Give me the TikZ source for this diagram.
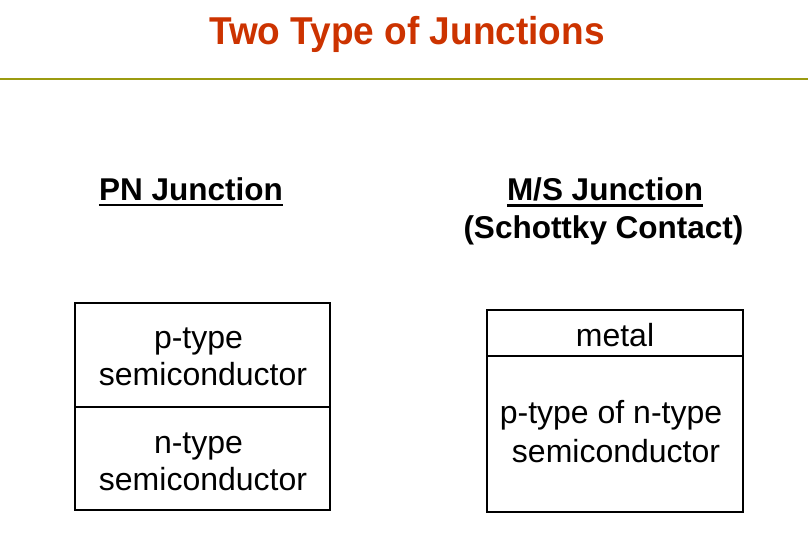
\documentclass[tikz,border=0pt]{standalone}
\usepackage{fontspec}
\setmainfont{Liberation Sans}
\definecolor{titlered}{RGB}{204,51,0}
\definecolor{rulegold}{RGB}{155,155,16}
\tikzset{
  txt/.style={inner sep=0pt, anchor=base, font=\fontsize{32}{38.4}\selectfont},
  head/.style={inner sep=0pt, anchor=base, font=\fontsize{31.5}{38}\selectfont\bfseries},
  ttl/.style={inner sep=0pt, anchor=base, text=titlered, font=\fontsize{37}{44}\selectfont\bfseries},
  cell/.style={draw=black, line width=2.4pt, inner sep=0pt, outer sep=0pt, anchor=north west},
  uline/.style={line width=2.2pt},
}
\begin{document}
\begin{tikzpicture}[x=1pt, y=-1pt]
\path[use as bounding box] (0,0) rectangle (808,558);
% title
\node[ttl, yscale=1.05] (title) at (407,44) {Two Type of Junctions};
\coordinate (rl) at (0,79);
\coordinate (rr) at (808,79);
\draw[rulegold, line width=2.3pt] (rl) -- (rr);
% headings
\node[head] (pn) at (191,200) {PN Junction};
\draw[uline] ([yshift=-5pt]pn.base west) -- ([yshift=-5pt]pn.base east);
\node[head] (ms) at (605,200.5) {M/S Junction};
\draw[uline] ([yshift=-5pt]ms.base west) -- ([yshift=-5pt]ms.base east);
\node[head] (sch) at (603.5,238.5) {(Schottky Contact)};
% left box
\node[cell, minimum width=255.3pt, minimum height=104.3pt] (pcell) at (74.7,302.7) {};
\node[cell, minimum width=255.3pt, minimum height=103pt] (ncell) at (74.7,407) {};
\node[txt] (p1) at (198.5,348.5) {p-type};
\node[txt] (p2) at (203,385.5) {semiconductor};
\node[txt] (n1) at (198.5,453) {n-type};
\node[txt] (n2) at (203,490) {semiconductor};
% right box
\node[cell, minimum width=256pt, minimum height=46.3pt] (mcell) at (486.7,309.7) {};
\node[cell, minimum width=256pt, minimum height=156pt] (scell) at (486.7,356) {};
\node[txt] (m1) at (615,346.5) {metal};
\node[txt] (s1) at (611,423.5) {p-type of n-type};
\node[txt] (s2) at (616,462) {semiconductor};
\end{tikzpicture}
\end{document}
